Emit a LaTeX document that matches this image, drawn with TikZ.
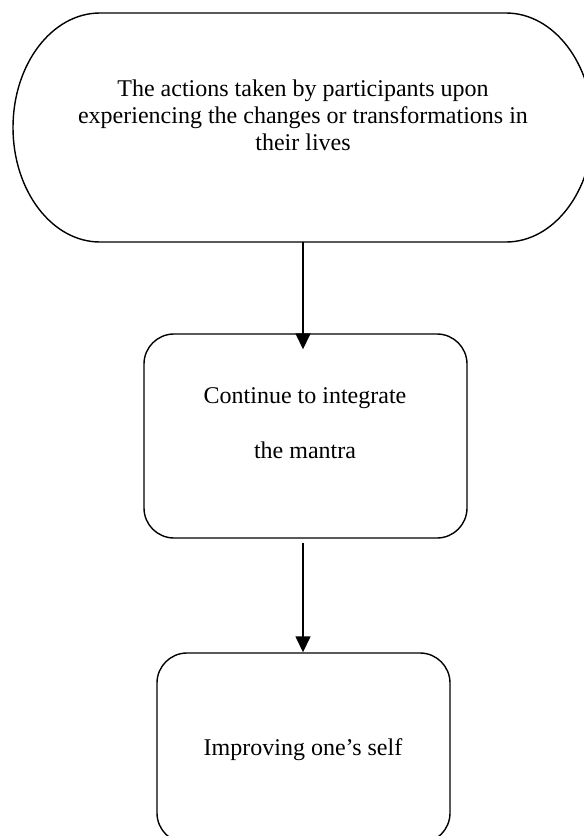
\documentclass[tikz,border=0pt]{standalone}
\usepackage{fontspec}
\setmainfont{Liberation Serif}
\usetikzlibrary{arrows.meta}
\begin{document}
\begin{tikzpicture}[x=1pt,y=-1pt,
  shapeline/.style={draw, line width=1.4pt},
  box/.style={shapeline, rounded corners=30pt, inner sep=0pt},
  txt/.style={anchor=base, font=\fontsize{24}{27.5}\selectfont, inner sep=0pt},
  arr/.style={line width=1.4pt, -{Triangle[width=15pt,length=16pt]}}]
\useasboundingbox (0,0) rectangle (584,836);
\clip (0,0) rectangle (584,836);
% top terminator shape
\node[minimum width=580pt, minimum height=229pt, inner sep=0pt] (top) at (303,127.5) {};
\draw[shapeline] (100,13) -- (506,13)
  arc[start angle=-90, end angle=90, x radius=87, y radius=114.5]
  -- (100,242)
  arc[start angle=90, end angle=270, x radius=87, y radius=114.5]
  -- cycle;
\node[txt] (t1) at (303,96) {The actions taken by participants upon};
\node[txt] (t2) at (303,123) {experiencing the changes or transformations in};
\node[txt] (t3) at (303,150) {their lives};
% middle box
\node[box, minimum width=323pt, minimum height=204pt] (mid) at (305.5,436) {};
\node[txt] (m1) at (305,403) {Continue to integrate};
\node[txt] (m2) at (305,458) {the mantra};
% bottom box
\node[box, minimum width=293pt, minimum height=190pt] (bot) at (303.5,748) {};
\node[txt] (b1) at (303,755) {Improving one’s self};
% connectors
\draw[arr] (top.south) -- ([yshift=-16pt]top.south |- mid.north);
\draw[arr] ([yshift=-4pt]top.south |- mid.south) -- (top.south |- bot.north);
\end{tikzpicture}
\end{document}
